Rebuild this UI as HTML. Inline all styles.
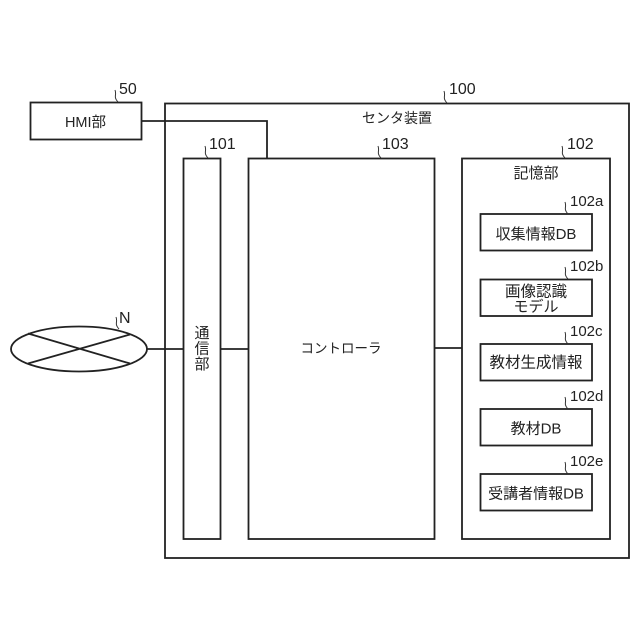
<!DOCTYPE html>
<html lang="ja">
<head>
<meta charset="utf-8">
<style>
html,body{margin:0;padding:0;background:#fff;width:640px;height:640px;overflow:hidden}
svg{display:block}
text{font-family:"Liberation Sans","Noto Sans CJK JP",sans-serif;fill:#222}
.j{font-size:15px;text-anchor:middle}
.n{font-size:16px}
.s{font-size:15px}
.b{fill:none;stroke:#222;stroke-width:1.8}
.t{fill:none;stroke:#333;stroke-width:1}
</style>
</head>
<body>
<svg width="640" height="640" viewBox="0 0 640 640" xmlns="http://www.w3.org/2000/svg">
<rect class="b" x="165" y="103.500" width="464" height="454.500"/>
<rect class="b" x="30.500" y="102.500" width="111" height="37"/>
<rect class="b" x="183.500" y="158.500" width="37" height="380.500"/>
<rect class="b" x="248.500" y="158.500" width="186" height="380.500"/>
<rect class="b" x="462" y="158.500" width="148" height="380.500"/>
<rect class="b" x="480.500" y="214" width="111.500" height="36.500"/>
<rect class="b" x="480.500" y="279.500" width="111.500" height="36.500"/>
<rect class="b" x="480.500" y="344" width="111.500" height="36.500"/>
<rect class="b" x="480.500" y="409" width="111.500" height="36.500"/>
<rect class="b" x="480.500" y="474" width="111.500" height="36.500"/>
<ellipse class="b" cx="79" cy="349" rx="68" ry="22.500"/>
<path class="b" d="M28 333.500L130 363.500M28 363.500L130 334.500"/>
<path class="b" d="M147 349H183M221 349H248M435 348H462M142 121H267V158"/>
<path class="t" d="M118 102C113 97 117 95 115 90M208 158C203 153 207 151 205 146M381 158C376 153 380 151 378 146M447 103C442 98 446 96 444 91M565 158C560 153 564 151 562 146M568 214C563 209 567 207 565 202M568 279C563 274 567 272 565 267M568 344C563 339 567 337 565 332M568 409C563 404 567 402 565 397M568 474C563 469 567 467 565 462M119 329C114 324 118 322 116 317"/>
<text class="n" x="119" y="94">50</text>
<text class="n" x="209" y="149">101</text>
<text class="n" x="382" y="149">103</text>
<text class="n" x="449" y="94">100</text>
<text class="n" x="567" y="149">102</text>
<text class="s" x="570" y="206">102a</text>
<text class="s" x="570" y="271">102b</text>
<text class="s" x="570" y="336">102c</text>
<text class="s" x="570" y="401">102d</text>
<text class="s" x="570" y="466">102e</text>
<text class="n" x="119" y="323">N</text>
<text class="j" x="85.500" y="127" style="font-size:14.500px">HMI部</text>
<text class="j" x="397" y="123" style="font-size:14px">センタ装置</text>
<text class="j" x="536" y="178">記憶部</text>
<text class="j" x="202" y="338">通</text>
<text class="j" x="202" y="353.500">信</text>
<text class="j" x="202" y="369">部</text>
<text class="j" x="341" y="353" style="font-size:13.500px">コントローラ</text>
<text class="j" x="536" y="239">収集情報DB</text>
<text class="j" x="536" y="296.500" style="font-size:15.500px">画像認識</text>
<text class="j" x="536" y="311.500">モデル</text>
<text class="j" x="536" y="367.500" style="font-size:15.500px">教材生成情報</text>
<text class="j" x="536" y="433.500">教材DB</text>
<text class="j" x="536" y="498.500">受講者情報DB</text>
</svg>
</body>
</html>
